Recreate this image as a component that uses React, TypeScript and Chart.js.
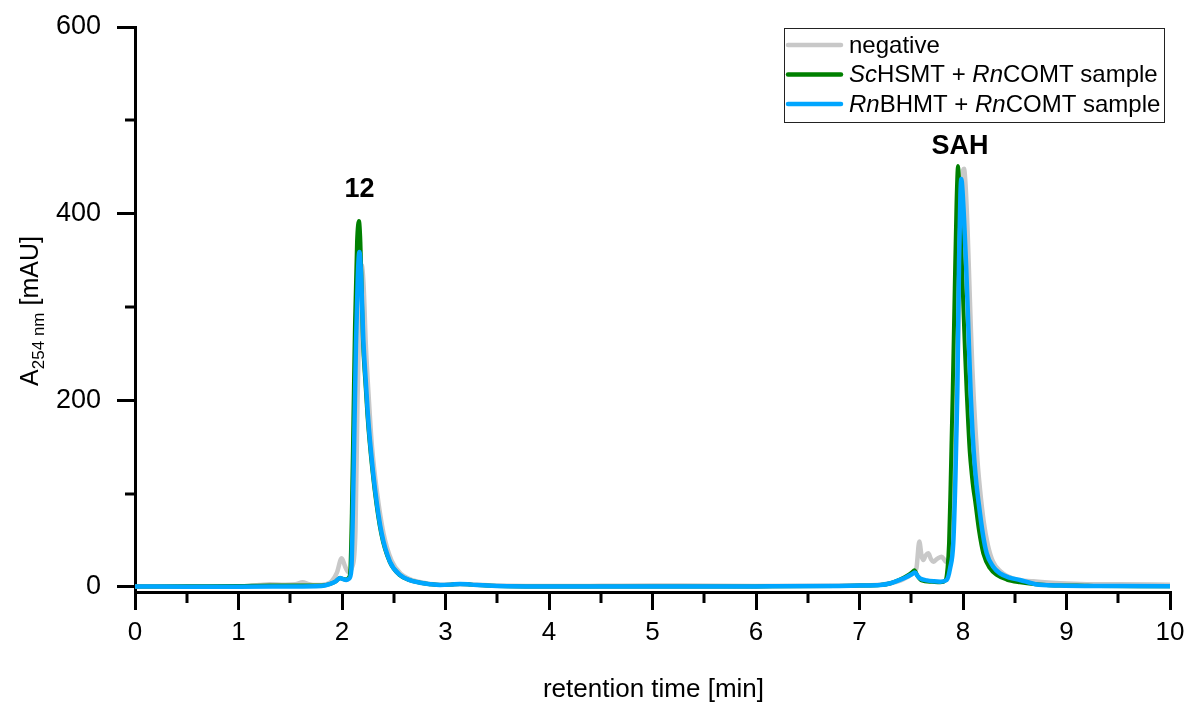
import React, { useEffect, useRef } from 'react';
import { Chart, registerables } from 'chart.js';

Chart.register(...registerables);

// ---- data (retention time in min, absorbance in mAU) ----
const negTime = [0, 0.5, 1.0, 1.2, 1.3, 1.45, 1.55, 1.62, 1.68, 1.75, 1.85, 1.9, 1.95, 1.997, 2.03, 2.06, 2.1, 2.13, 2.15, 2.17, 2.19, 2.21, 2.23, 2.26, 2.29, 2.34, 2.4, 2.48, 2.57, 2.76, 2.95, 3.1, 3.2, 3.5, 4.0, 4.5, 5.0, 5.3, 6.0, 7.0, 7.2, 7.3, 7.4, 7.47, 7.52, 7.55, 7.578, 7.6, 7.617, 7.64, 7.665, 7.69, 7.713, 7.75, 7.794, 7.82, 7.836, 7.87, 7.9, 7.93, 7.955, 7.975, 7.995, 8.01, 8.025, 8.045, 8.06, 8.075, 8.09, 8.105, 8.12, 8.14, 8.164, 8.2, 8.24, 8.29, 8.36, 8.485, 8.68, 8.937, 9.2, 9.5, 10];
const negValues = [0.5, 0.5, 0.5, 2, 3, 2.5, 3, 5, 3, 2, 3, 6, 15, 30.7, 22, 16, 22, 60, 200, 300, 345, 320, 260, 200, 150, 100, 58, 28, 14, 5, 2.5, 3, 3, 1.5, 1, 1.2, 1.5, 1.5, 1, 1.5, 2.5, 4, 7, 11, 15, 20, 48.6, 33, 29, 34, 36, 30, 27, 30, 32.5, 29, 27, 30, 60, 160, 280, 380, 440, 448, 430, 380, 330, 280, 235, 200, 170, 135, 105, 70, 45, 27, 17, 9, 6, 4, 3, 2.8, 2.5];

const scTime = [0, 0.5, 1.0, 1.3, 1.6, 1.8, 1.88, 1.94, 1.98, 2.01, 2.04, 2.065, 2.08, 2.095, 2.11, 2.125, 2.145, 2.164, 2.178, 2.19, 2.202, 2.225, 2.245, 2.265, 2.315, 2.378, 2.46, 2.555, 2.66, 2.754, 2.85, 2.947, 3.05, 3.14, 3.25, 3.4, 3.6, 4.0, 5.0, 6.0, 6.8, 7.0, 7.2, 7.3, 7.39, 7.46, 7.51, 7.53, 7.56, 7.6, 7.7, 7.78, 7.83, 7.85, 7.865, 7.88, 7.9, 7.92, 7.937, 7.952, 7.962, 7.975, 7.99, 8.005, 8.02, 8.035, 8.05, 8.065, 8.085, 8.1, 8.116, 8.155, 8.196, 8.26, 8.325, 8.42, 8.55, 8.7, 8.937, 9.1, 9.3, 10];
const scValues = [0.5, 0.8, 1, 1.5, 1.5, 1.5, 3, 6, 9.5, 8.5, 8, 10, 18, 80, 180, 280, 370, 392, 370, 320, 265, 220, 185, 157, 104, 57.5, 27, 12.9, 7, 4.6, 3, 2.1, 2.5, 3.2, 2.5, 1.5, 0.8, 0.5, 0.5, 0.6, 1, 1.5, 2.1, 4, 8, 12, 16, 18, 12, 7, 5.5, 5, 7, 20, 47, 110, 207, 320, 410, 451, 435, 395, 345, 295, 250, 210, 175, 145, 120, 105, 93, 60, 36, 20, 12.9, 8, 5, 3, 1.5, 1.5, 1, 0.8];

const rnTime = [0, 0.5, 1.0, 1.5, 1.8, 1.88, 1.94, 1.98, 2.01, 2.04, 2.07, 2.09, 2.105, 2.12, 2.135, 2.152, 2.168, 2.182, 2.195, 2.206, 2.23, 2.25, 2.27, 2.32, 2.383, 2.464, 2.56, 2.66, 2.754, 2.85, 2.947, 3.05, 3.14, 3.25, 3.4, 3.6, 4.0, 5.0, 6.0, 6.8, 7.0, 7.2, 7.3, 7.39, 7.46, 7.51, 7.536, 7.56, 7.585, 7.65, 7.72, 7.78, 7.842, 7.875, 7.906, 7.925, 7.945, 7.962, 7.975, 7.984, 7.995, 8.012, 8.03, 8.045, 8.06, 8.075, 8.09, 8.11, 8.13, 8.148, 8.19, 8.229, 8.29, 8.357, 8.45, 8.55, 8.7, 8.937, 9.2, 9.5, 10];
const rnValues = [0.5, 0.3, 0.3, 0.5, 1, 3, 6, 9.6, 8.5, 7.5, 9, 18, 80, 170, 260, 330, 359, 340, 300, 265, 220, 185, 157, 104, 57.5, 27, 12.9, 7, 4.6, 3, 2.1, 2.5, 3.2, 2.5, 1.5, 0.8, 0.5, 0.5, 0.6, 1, 1.5, 2.1, 4, 7.5, 11, 14, 15.4, 12, 9.3, 7, 6, 5.7, 7.5, 20, 47, 110, 207, 350, 420, 437, 425, 390, 345, 300, 250, 205, 170, 135, 110, 93, 58, 36, 22, 14.6, 10, 7.5, 3, 1.5, 1, 0.9, 0.8];

const xTicks = [0, 1, 2, 3, 4, 5, 6, 7, 8, 9, 10];
const xMinorTicks = [0.5, 1.5, 2.5, 3.5, 4.5, 5.5, 6.5, 7.5, 8.5, 9.5];
const yTicks = [0, 200, 400, 600];
const yMinorTicks = [100, 300, 500];

// legend entries as rich text: [text, italic]
const legendNeg: [string, boolean][] = [['negative', false]];
const legendSc: [string, boolean][] = [['Sc', true], ['HSMT + ', false], ['Rn', true], ['COMT sample', false]];
const legendRn: [string, boolean][] = [['Rn', true], ['BHMT + ', false], ['Rn', true], ['COMT sample', false]];

const peakLabels = ['12', 'SAH'];
const peakLabelTime = [2.17, 7.97];
const peakLabelValue = [426, 472];

const xTitle = 'retention time [min]';

const FONT = '"Liberation Sans", Arial, Helvetica, sans-serif';
const COL_NEG = 'rgb(200,200,200)';
const COL_SC = 'rgb(0,128,0)';
const COL_RN = 'rgb(0,166,255)';

const toPoints = (t: number[], v: number[]) => t.map((x, i) => ({ x, y: v[i] }));

const customPlugin = {
  id: 'customDecor',
  afterDraw(chart: any) {
    const ctx = chart.ctx as CanvasRenderingContext2D;
    const xs = chart.scales.x;
    const ys = chart.scales.y;
    const ca = chart.chartArea;
    ctx.save();

    // minor ticks
    ctx.strokeStyle = '#000';
    ctx.lineWidth = 3;
    ctx.lineCap = 'butt';
    xMinorTicks.forEach((v) => {
      const px = Math.round(xs.getPixelForValue(v));
      ctx.beginPath();
      ctx.moveTo(px, ca.bottom);
      ctx.lineTo(px, ca.bottom + 11);
      ctx.stroke();
    });
    yMinorTicks.forEach((v) => {
      const py = Math.round(ys.getPixelForValue(v));
      ctx.beginPath();
      ctx.moveTo(ca.left, py);
      ctx.lineTo(ca.left - 10, py);
      ctx.stroke();
    });

    // peak labels
    ctx.fillStyle = '#000';
    ctx.font = `bold 27px ${FONT}`;
    ctx.textAlign = 'center';
    ctx.textBaseline = 'middle';
    peakLabels.forEach((lab, i) => {
      ctx.fillText(lab, xs.getPixelForValue(peakLabelTime[i]), ys.getPixelForValue(peakLabelValue[i]));
    });

    // x title
    ctx.font = `26px ${FONT}`;
    ctx.textAlign = 'center';
    ctx.textBaseline = 'middle';
    ctx.fillText(xTitle, (ca.left + ca.right) / 2 + 1, 690);

    // y title with subscript
    ctx.save();
    ctx.translate(30, 311);
    ctx.rotate(-Math.PI / 2);
    const big = `25px ${FONT}`;
    const small = `17px ${FONT}`;
    const segs: [string, string, number][] = [
      ['A', big, 0],
      ['254 nm', small, 6],
      [' [mAU]', big, 0],
    ];
    let total = 0;
    segs.forEach(([t, f]) => {
      ctx.font = f;
      total += ctx.measureText(t).width;
    });
    let cx = -total / 2;
    ctx.textAlign = 'left';
    ctx.textBaseline = 'alphabetic';
    segs.forEach(([t, f, dy]) => {
      ctx.font = f;
      ctx.fillText(t, cx, 8 + dy);
      cx += ctx.measureText(t).width;
    });
    ctx.restore();

    // legend
    const boxRight = ca.right - 6;
    const boxLeft = boxRight - 380;
    const boxTop = ca.top + 1;
    const boxH = 94;
    ctx.fillStyle = '#fff';
    ctx.fillRect(boxLeft, boxTop, boxRight - boxLeft, boxH);
    ctx.strokeStyle = '#222';
    ctx.lineWidth = 1;
    ctx.strokeRect(boxLeft + 0.5, boxTop + 0.5, boxRight - boxLeft, boxH);
    const entries: [string, [string, boolean][]][] = [
      [COL_NEG, legendNeg],
      [COL_SC, legendSc],
      [COL_RN, legendRn],
    ];
    entries.forEach(([col, rich], i) => {
      const y = boxTop + 17 + i * 29.5;
      ctx.strokeStyle = col;
      ctx.lineWidth = 4.5;
      ctx.lineCap = 'round';
      ctx.beginPath();
      ctx.moveTo(boxLeft + 4, y);
      ctx.lineTo(boxLeft + 57, y);
      ctx.stroke();
      let tx = boxLeft + 65;
      ctx.fillStyle = '#000';
      ctx.textAlign = 'left';
      ctx.textBaseline = 'middle';
      rich.forEach(([t, it]) => {
        ctx.font = `${it ? 'italic ' : ''}24px ${FONT}`;
        ctx.fillText(t, tx, y + 1);
        tx += ctx.measureText(t).width;
      });
    });

    ctx.restore();
  },
};

export default function App() {
  const ref = useRef<HTMLCanvasElement | null>(null);
  useEffect(() => {
    document.body.style.margin = '0';
    document.body.style.overflow = 'hidden';
    const canvas = ref.current;
    if (!canvas) return;
    const lineDs = (label: string, t: number[], v: number[], color: string, w: number, order: number) => ({
      label,
      data: toPoints(t, v),
      borderColor: color,
      backgroundColor: color,
      borderWidth: w,
      pointRadius: 0,
      fill: false,
      tension: 0.3,
      cubicInterpolationMode: 'monotone' as const,
      order,
      borderJoinStyle: 'round' as const,
    });
    const chart = new Chart(canvas, {
      type: 'line',
      data: {
        datasets: [
          lineDs('negative', negTime, negValues, COL_NEG, 4.5, 3),
          lineDs('ScHSMT + RnCOMT sample', scTime, scValues, COL_SC, 4, 2),
          lineDs('RnBHMT + RnCOMT sample', rnTime, rnValues, COL_RN, 4.5, 1),
        ],
      },
      options: {
        responsive: false,
        animation: false,
        parsing: true,
        layout: { padding: { left: 0, right: 18, top: 27, bottom: 0 } },
        plugins: {
          legend: { display: false },
          tooltip: { enabled: false },
          title: { display: false },
        },
        scales: {
          x: {
            type: 'linear',
            min: 0,
            max: 10,
            afterBuildTicks: (s: any) => {
              s.ticks = xTicks.map((v) => ({ value: v }));
            },
            afterFit: (s: any) => {
              s.height = 112;
              s.paddingLeft = 0;
              s.paddingRight = 0;
            },
            grid: {
              display: true,
              drawOnChartArea: false,
              drawTicks: true,
              tickLength: 18,
              lineWidth: 3,
              color: '#000',
            },
            border: { display: true, width: 3, color: '#000' },
            ticks: {
              color: '#000',
              font: { family: FONT, size: 26 },
              padding: 7,
              maxRotation: 0,
              autoSkip: false,
            },
          },
          y: {
            type: 'linear',
            min: -5.4,
            max: 600,
            afterBuildTicks: (s: any) => {
              s.ticks = yTicks.map((v) => ({ value: v }));
            },
            afterFit: (s: any) => {
              s.width = 135;
              s.paddingTop = 0;
              s.paddingBottom = 0;
            },
            grid: {
              display: true,
              drawOnChartArea: false,
              drawTicks: true,
              tickLength: 18,
              lineWidth: 3,
              color: '#000',
            },
            border: { display: true, width: 3, color: '#000' },
            ticks: {
              color: '#000',
              font: { family: FONT, size: 27 },
              padding: 16,
              autoSkip: false,
            },
          },
        },
      },
      plugins: [customPlugin],
    });
    return () => chart.destroy();
  }, []);
  return <canvas ref={ref} width={1188} height={704} style={{ display: 'block' }} />;
}
